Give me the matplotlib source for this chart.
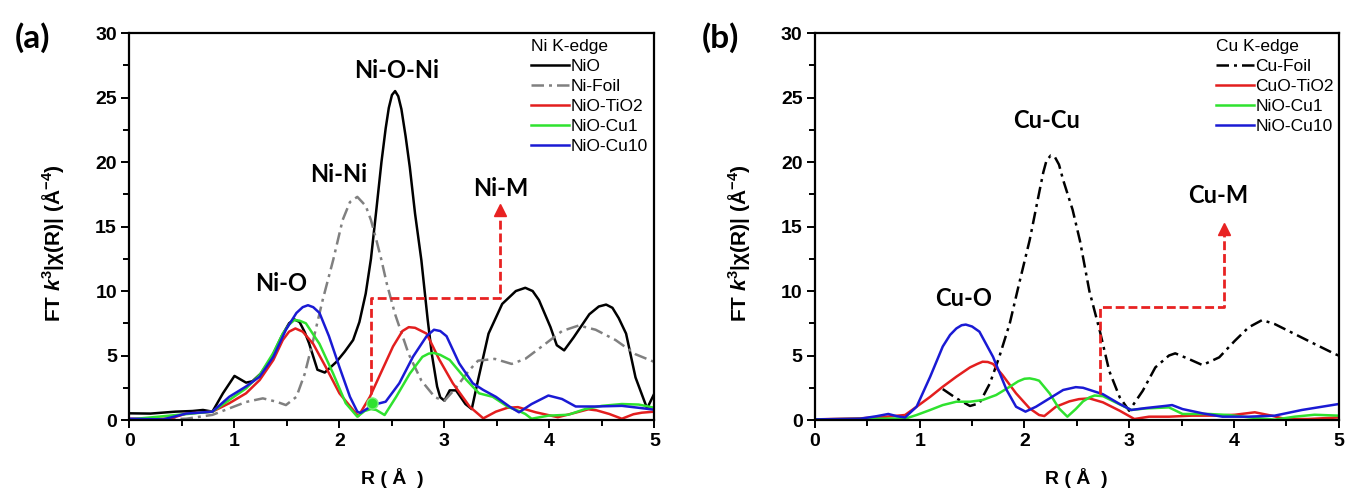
import matplotlib.pyplot as plt
from matplotlib.ticker import MultipleLocator

plt.rcParams['font.family'] = 'Liberation Sans'
plt.rcParams['mathtext.fontset'] = 'custom'
plt.rcParams['mathtext.rm'] = 'Liberation Sans'
plt.rcParams['mathtext.bf'] = 'Liberation Sans:bold'
plt.rcParams['mathtext.it'] = 'Liberation Sans:italic'
plt.rcParams['mathtext.bfit'] = 'Liberation Sans:italic:bold'

# ---- (a) Ni K-edge ----
r_nio = [0, 0.2, 0.44, 0.6, 0.7, 0.79, 0.89, 1.0, 1.11, 1.17, 1.25, 1.35, 1.45, 1.52, 1.57, 1.62, 1.67, 1.71,
         1.79, 1.86, 1.97, 2.05, 2.13, 2.19, 2.25, 2.3, 2.35, 2.4, 2.44, 2.47, 2.5, 2.53, 2.56, 2.59, 2.63,
         2.67, 2.72, 2.78, 2.84, 2.88, 2.93, 2.96, 3.0, 3.05, 3.11, 3.2, 3.26, 3.32, 3.42, 3.55, 3.68, 3.77,
         3.84, 3.9, 4.01, 4.07, 4.14, 4.23, 4.38, 4.47, 4.54, 4.6, 4.66, 4.73, 4.82, 4.93, 5.0]
ft_nio = [0.52, 0.5, 0.65, 0.7, 0.78, 0.65, 2.07, 3.42, 2.9, 3.0, 3.6, 4.8, 6.5, 7.5, 7.8, 7.6, 6.8, 5.96,
          3.9, 3.68, 4.5, 5.3, 6.2, 7.6, 9.8, 12.5, 16.2, 20.0, 22.6, 24.2, 25.2, 25.5, 25.1, 24.1, 22.0,
          19.6, 16.0, 12.4, 7.8, 5.1, 2.6, 1.76, 1.5, 2.3, 2.3, 1.24, 0.85, 3.1, 6.7, 9.0, 10.0, 10.25,
          10.0, 9.3, 7.2, 5.8, 5.4, 6.4, 8.2, 8.8, 8.95, 8.7, 7.9, 6.7, 3.3, 0.9, 2.07]

r_nifoil = [0, 0.54, 0.79, 0.95, 1.11, 1.27, 1.4, 1.49, 1.59, 1.67, 1.75, 1.84, 1.94, 2.03, 2.1, 2.17, 2.25,
            2.3, 2.35, 2.4, 2.45, 2.53, 2.66, 2.78, 2.91, 3.0, 3.1, 3.23, 3.32, 3.48, 3.64, 3.77, 3.96, 4.12,
            4.28, 4.44, 4.63, 4.82, 5.0]
ft_nifoil = [0, 0.1, 0.4, 0.9, 1.4, 1.68, 1.42, 1.16, 1.8, 3.6, 6.2, 9.3, 12.4, 15.5, 16.9, 17.3, 16.6,
             15.5, 14.0, 12.4, 10.6, 8.2, 5.1, 3.06, 1.76, 1.5, 2.4, 3.8, 4.6, 4.74, 4.35, 4.74, 5.9, 6.9,
             7.33, 7.0, 6.2, 5.1, 4.5]

r_nio_tio2 = [0, 0.38, 0.54, 0.79, 0.95, 1.11, 1.24, 1.37, 1.46, 1.52, 1.58, 1.65, 1.75, 1.87, 2.0, 2.13,
              2.18, 2.29, 2.38, 2.51, 2.6, 2.66, 2.72, 2.83, 2.95, 3.08, 3.24, 3.37, 3.49, 3.6, 3.7, 3.87,
              4.08, 4.2, 4.37, 4.45, 4.57, 4.69, 4.8, 4.88, 5.0]
ft_nio_tio2 = [0.1, 0.1, 0.5, 0.65, 1.3, 2.07, 3.1, 4.65, 6.2, 6.85, 7.1, 6.85, 5.9, 4.1, 2.07, 0.78,
               0.3, 1.8, 3.4, 5.7, 6.9, 7.2, 7.15, 6.7, 4.7, 2.85, 1.04, 0.13, 0.65, 0.95, 1.0, 0.6,
               0.22, 0.47, 0.83, 0.75, 0.47, 0.1, 0.45, 0.57, 0.65]

r_nio_cu1 = [0, 0.54, 0.79, 0.95, 1.11, 1.24, 1.37, 1.46, 1.52, 1.57, 1.62, 1.68, 1.81, 1.94, 2.06, 2.17,
             2.24, 2.3, 2.35, 2.43, 2.54, 2.67, 2.79, 2.85, 2.9, 2.96, 3.05, 3.21, 3.33, 3.46, 3.61, 3.71,
             3.77, 3.83, 3.99, 4.18, 4.34, 4.5, 4.69, 4.85, 5.0]
ft_nio_cu1 = [0.05, 0.46, 0.65, 1.55, 2.45, 3.5, 5.2, 6.7, 7.4, 7.75, 7.7, 7.5, 5.9, 3.6, 1.3, 0.26,
              0.7, 0.85, 0.78, 0.39, 1.8, 3.6, 4.9, 5.15, 5.2, 5.05, 4.66, 3.1, 2.07, 1.8, 1.0, 0.7,
              0.47, 0.1, 0.34, 0.41, 0.85, 1.1, 1.24, 1.2, 0.95]

r_nio_cu10 = [0, 0.32, 0.54, 0.79, 0.95, 1.11, 1.24, 1.37, 1.49, 1.59, 1.65, 1.7, 1.75, 1.81, 1.9, 2.0,
              2.1, 2.17, 2.2, 2.32, 2.44, 2.57, 2.7, 2.83, 2.9, 2.96, 3.02, 3.14, 3.27, 3.37, 3.49, 3.62,
              3.71, 3.83, 3.99, 4.12, 4.25, 4.44, 4.69, 4.85, 5.0]
ft_nio_cu10 = [0.1, 0.05, 0.5, 0.65, 1.8, 2.6, 3.36, 4.9, 7.0, 8.3, 8.75, 8.9, 8.75, 8.3, 6.5, 4.1,
               1.8, 0.65, 0.55, 1.17, 1.42, 2.85, 4.9, 6.5, 7.0, 6.9, 6.5, 4.4, 2.85, 2.33, 1.8, 1.04,
               0.6, 1.24, 1.9, 1.63, 1.05, 1.05, 1.1, 0.95, 0.8]

# ---- (b) Cu K-edge ----
r_cufoil = [1.22, 1.35, 1.48, 1.57, 1.67, 1.76, 1.86, 1.95, 2.05, 2.14, 2.18, 2.21, 2.25, 2.29, 2.33,
            2.37, 2.46, 2.53, 2.62, 2.72, 2.81, 2.91, 3.0, 3.13, 3.25, 3.38, 3.44, 3.57, 3.7, 3.86, 4.01,
            4.14, 4.27, 4.39, 4.58, 4.77, 4.97, 5.0]
ft_cufoil = [2.4, 1.68, 1.09, 1.3, 2.84, 4.9, 7.5, 10.6, 13.95, 17.6, 19.2, 20.1, 20.5, 20.4, 19.8,
             18.6, 16.3, 13.9, 10.0, 6.9, 3.8, 1.76, 0.72, 2.27, 4.08, 5.0, 5.17, 4.73, 4.26, 4.86, 6.15,
             7.18, 7.75, 7.44, 6.67, 5.9, 5.1, 5.0]

r_cuo_tio2 = [0, 0.43, 0.68, 0.86, 0.97, 1.1, 1.22, 1.35, 1.48, 1.55, 1.6, 1.65, 1.7, 1.79, 1.92, 2.05,
              2.14, 2.19, 2.3, 2.43, 2.52, 2.62, 2.75, 2.91, 3.05, 3.19, 3.38, 3.6, 3.82, 4.01, 4.2, 4.36,
              4.49, 4.71, 5.0]
ft_cuo_tio2 = [0.05, 0.13, 0.26, 0.39, 1.03, 1.8, 2.58, 3.36, 4.08, 4.35, 4.52, 4.5, 4.35, 3.49, 2.07,
               0.9, 0.39, 0.31, 1.03, 1.45, 1.62, 1.68, 1.37, 0.72, 0.08, 0.26, 0.26, 0.34, 0.34, 0.41,
               0.6, 0.34, 0.08, 0.08, 0.2]

r_b_cu1 = [0, 0.59, 0.87, 0.97, 1.1, 1.22, 1.35, 1.48, 1.6, 1.73, 1.86, 1.94, 2.0, 2.05, 2.1, 2.14, 2.24,
           2.33, 2.41, 2.49, 2.56, 2.62, 2.67, 2.75, 2.87, 3.02, 3.16, 3.38, 3.51, 3.76, 3.95, 4.14, 4.39,
           4.58, 4.77, 5.0]
ft_b_cu1 = [0.05, 0.1, 0.13, 0.39, 0.78, 1.16, 1.42, 1.42, 1.55, 1.94, 2.58, 3.0, 3.2, 3.23, 3.15, 3.05,
            2.07, 0.9, 0.26, 0.85, 1.45, 1.75, 1.9, 1.85, 1.37, 0.78, 0.9, 0.98, 0.47, 0.47, 0.39, 0.21,
            0.03, 0.26, 0.41, 0.34]

r_b_cu10 = [0, 0.43, 0.59, 0.7, 0.78, 0.86, 0.97, 1.1, 1.22, 1.29, 1.35, 1.4, 1.44, 1.5, 1.57, 1.7, 1.83,
            1.92, 2.01, 2.11, 2.24, 2.37, 2.49, 2.56, 2.75, 2.91, 3.02, 3.16, 3.35, 3.41, 3.51, 3.7, 3.89,
            4.14, 4.39, 4.65, 4.84, 5.0]
ft_b_cu10 = [0.05, 0.1, 0.3, 0.47, 0.3, 0.2, 1.03, 3.36, 5.7, 6.6, 7.1, 7.35, 7.4, 7.25, 6.85, 4.9, 2.33,
             1.03, 0.65, 1.03, 1.68, 2.33, 2.55, 2.5, 2.0, 1.24, 0.78, 0.93, 1.1, 1.16, 0.85, 0.52, 0.26,
             0.26, 0.34, 0.78, 1.03, 1.24]

# dashed guide paths toward the Ni-M / Cu-M shells
ni_path_r = [2.3, 2.3, 3.53, 3.53]
ni_path_y = [2.0, 9.45, 9.45, 16.0]
ni_head = (3.53, 16.3)
cu_path_r = [2.72, 2.72, 3.91, 3.91]
cu_path_y = [2.0, 8.8, 8.8, 14.5]
cu_head = (3.91, 14.8)
ni_dot = (2.31, 1.35)

BLACK, GRAY, RED, GREEN, BLUE = '#000000', '#808080', '#e31e1e', '#2fe22f', '#1a1ad4'
ARROW = '#e82222'
LW = 1.8
DASHDOT = (5, 2, 1.2, 2)

fig = plt.figure(figsize=(13.46, 4.93), dpi=100)
ax1 = fig.add_axes([0.0962, 0.148, 0.390, 0.785])
ax2 = fig.add_axes([0.6055, 0.148, 0.389, 0.785])

ax1.plot(r_nio, ft_nio, color=BLACK, lw=LW, label='NiO')
ax1.plot(r_nifoil, ft_nifoil, color=GRAY, lw=LW, dashes=DASHDOT, label='Ni-Foil')
ax1.plot(r_nio_tio2, ft_nio_tio2, color=RED, lw=LW, label='NiO-TiO2')
ax1.plot(r_nio_cu1, ft_nio_cu1, color=GREEN, lw=LW, label='NiO-Cu1')
ax1.plot(r_nio_cu10, ft_nio_cu10, color=BLUE, lw=LW, label='NiO-Cu10')
ax1.plot(ni_path_r, ni_path_y, color=ARROW, lw=2, dashes=(3.2, 1.4))
ax1.plot(*ni_head, marker='^', ms=9, color=ARROW, mec=ARROW)
ax1.plot(*ni_dot, marker='o', ms=8, color=GREEN, mec='#7cf07c', mew=1)

ax2.plot(r_cufoil, ft_cufoil, color=BLACK, lw=LW, dashes=DASHDOT, label='Cu-Foil')
ax2.plot(r_cuo_tio2, ft_cuo_tio2, color=RED, lw=LW, label='CuO-TiO2')
ax2.plot(r_b_cu1, ft_b_cu1, color=GREEN, lw=LW, label='NiO-Cu1')
ax2.plot(r_b_cu10, ft_b_cu10, color=BLUE, lw=LW, label='NiO-Cu10')
ax2.plot(cu_path_r, cu_path_y, color=ARROW, lw=2, dashes=(3.2, 1.4))
ax2.plot(*cu_head, marker='^', ms=8, color=ARROW, mec=ARROW)

shell_font = dict(family='Lato', weight='bold', size=17, ha='center', va='center')
ax1.text(1.44, 10.57, 'Ni-O', **shell_font)
ax1.text(1.99, 19.0, 'Ni-Ni', **shell_font)
ax1.text(2.54, 27.1, 'Ni-O-Ni', **shell_font)
ax1.text(3.54, 17.95, 'Ni-M', **shell_font)
ax2.text(1.42, 9.44, 'Cu-O', **shell_font)
ax2.text(2.21, 23.2, 'Cu-Cu', **shell_font)
ax2.text(3.85, 17.4, 'Cu-M', **shell_font)

for ax, edge in ((ax1, 'Ni K-edge'), (ax2, 'Cu K-edge')):
    ax.set_xlim(0, 5)
    ax.set_ylim(0, 30)
    ax.xaxis.set_major_locator(MultipleLocator(1))
    ax.xaxis.set_minor_locator(MultipleLocator(0.5))
    ax.yaxis.set_major_locator(MultipleLocator(5))
    ax.yaxis.set_minor_locator(MultipleLocator(2.5))
    ax.tick_params(which='both', direction='out', width=1.4, top=False, right=False)
    ax.tick_params(which='major', length=6, pad=3, labelsize=14)
    ax.tick_params(which='minor', length=4)
    for lab in ax.get_xticklabels() + ax.get_yticklabels():
        lab.set_fontweight('bold')
    for sp in ax.spines.values():
        sp.set_linewidth(1.6)
    ax.set_xlabel('R ( Å  )', fontsize=14, fontweight='bold')
    ax.xaxis.set_label_coords(0.5, -0.125)
    ax.set_ylabel('FT $\\mathbfit{k}^{\\mathbf{3}}$|χ(R)| (Å$^{\\mathbf{-4}}$)',
                  fontsize=15, fontweight='bold')
    ax.yaxis.set_label_coords(-0.12, 0.457)
    ax.legend(title=edge, frameon=False, loc='upper left', bbox_to_anchor=(0.765, 0.985),
              borderaxespad=0, borderpad=0, fontsize=12.5, title_fontsize=12.5,
              handlelength=2.2, handletextpad=0.1, labelspacing=0.28, alignment='left')

fig.text(0.024, 0.923, '(a)', family='Lato', weight='bold', size=24, ha='center', va='center')
fig.text(0.535, 0.923, '(b)', family='Lato', weight='bold', size=24, ha='center', va='center')

fig.savefig('out.png', dpi=100)
